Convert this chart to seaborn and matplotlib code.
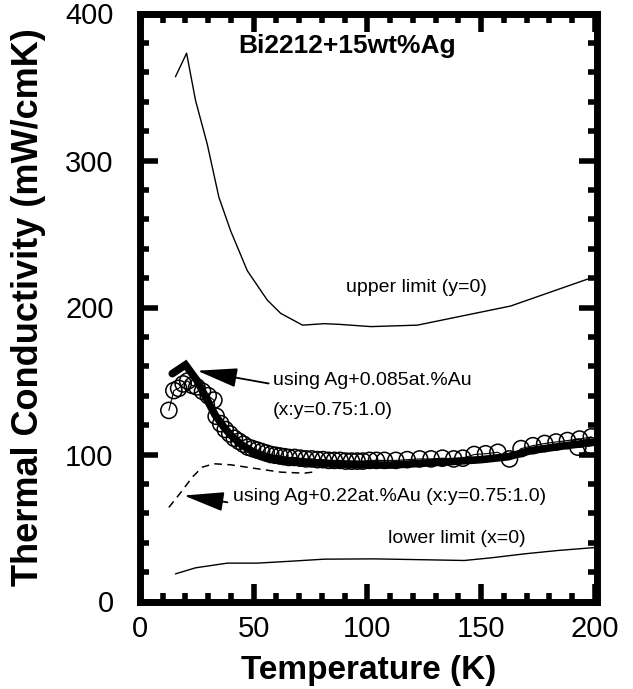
import matplotlib
matplotlib.use("Agg")
import matplotlib.pyplot as plt
import seaborn as sns
import numpy as np
from matplotlib.ticker import MultipleLocator

# ---------------- data ----------------
upper_T = [15.6, 20.5, 24.4, 29.6, 34.7, 39.9, 47.2, 56.0, 61.9, 71.5, 81.0, 88.0, 101.5, 122.0, 163.0, 200.0]
upper_K = [357, 373, 341, 311, 275, 252, 225, 205, 196, 188, 189, 188.5, 187, 188, 201, 221]

lower_T = [15.6, 24.4, 38.4, 51.6, 66.3, 81.0, 103.0, 125.0, 142.6, 154.4, 169.0, 183.8, 200.0]
lower_K = [18.8, 22.9, 26.1, 26.1, 27.4, 28.8, 29.0, 28.4, 27.9, 29.7, 32.4, 34.7, 36.7]

fit085_T = [14.2, 20.0, 25.2, 29.6, 33.0, 36.9, 40.0, 44.3, 50.0, 54.5, 60.0, 69.2, 84.0, 100.0, 110.0, 135.0, 150.0, 162.0, 172.0, 187.0, 200.0]
fit085_K = [155, 161, 150, 137, 127, 118.6, 113, 107, 101.5, 98.5, 96.5, 95, 93.7, 93, 92.8, 95, 96.5, 98.5, 102.7, 106, 108.4]

fit022_T = [12.7, 18.6, 23.0, 27.4, 32.5, 39.9, 51.6, 61.9, 72.2, 78.0]
fit022_K = [64, 75.5, 84.6, 91.4, 93.7, 93, 90.3, 88, 87.3, 88.4]

circ_T = [12.7, 14.9, 17.0, 19.0, 21.0, 23.0, 25.0, 27.5, 30.0, 32.5, 33.5, 35.5, 37.5, 39.5,
          41.5, 43.5, 45.5, 47.5, 49.5, 51.5, 53.5, 55.5, 57.5, 59.5, 61.5, 63.5, 65.5, 68.0,
          70.5, 73.0, 75.5, 78.0, 80.5, 83.0, 85.5, 88.0, 90.5, 93.0, 95.5, 98.0, 101.0, 104.0,
          107.5, 112.5, 117.5, 123.0, 128.0, 133.0, 138.0, 142.0, 147.0, 152.0, 157.4, 162.5,
          167.6, 172.8, 178.0, 183.0, 188.0, 193.3, 198.5, 192.6, 198.5]
circ_K = [130, 143.5, 145, 148, 150, 147, 146, 143, 140, 137, 126, 121, 117, 114,
          111, 109, 107, 105, 104, 103, 102, 101, 100, 99.5, 99, 98.5, 98, 98,
          97.5, 97, 97, 96.5, 96.5, 96, 96, 96, 95.5, 95.5, 95.5, 95.5, 96, 96,
          96, 96, 96.5, 97, 97, 97.5, 97, 97.5, 100, 100.5, 101.5, 97,
          104, 106, 107.5, 108.5, 109.5, 110.5, 112, 105, 106]

x_ticks = [0, 50, 100, 150, 200]
y_ticks = [0, 100, 200, 300, 400]

# ---------------- style ----------------
sns.set_theme(style="ticks")
plt.rcParams['font.family'] = ['Liberation Sans', 'DejaVu Sans']
plt.rcParams['text.color'] = 'black'
plt.rcParams['axes.labelcolor'] = 'black'
plt.rcParams['xtick.color'] = 'black'
plt.rcParams['ytick.color'] = 'black'

fig = plt.figure(figsize=(6.33, 6.89), dpi=100)
ax = fig.add_axes([140/633, 1-601.5/689, (597-140)/633, (601.5-13.5)/689])

sns.lineplot(x=upper_T, y=upper_K, ax=ax, color='black', lw=1.0, sort=False, estimator=None)
sns.lineplot(x=lower_T, y=lower_K, ax=ax, color='black', lw=1.0, sort=False, estimator=None)
sns.lineplot(x=fit022_T, y=fit022_K, ax=ax, color='black', lw=1.1, sort=False, estimator=None,
             linestyle=(0, (5, 3.5)))
sns.lineplot(x=circ_T, y=circ_K, ax=ax, color='black', lw=0.8, sort=False, estimator=None)
sns.scatterplot(x=circ_T, y=circ_K, ax=ax, marker='o', s=135, facecolor='none',
                edgecolor='black', linewidth=1.1, zorder=3)
sns.lineplot(x=fit085_T, y=fit085_K, ax=ax, color='black', lw=5.5, sort=False, estimator=None,
             zorder=4)
ax.lines[-1].set_solid_joinstyle('miter')

ax.set_xlim(0, 201)
ax.set_ylim(0, 400)
ax.set_xticks(x_ticks)
ax.set_yticks(y_ticks)
ax.xaxis.set_minor_locator(MultipleLocator(10))
ax.yaxis.set_minor_locator(MultipleLocator(20))

for s in ax.spines.values():
    s.set_linewidth(5)
    s.set_color('black')
ax.tick_params(which='both', direction='in', top=True, right=True, color='black')
ax.tick_params(which='major', length=13, width=4)
ax.tick_params(which='minor', length=6.5, width=4)
ax.tick_params(axis='x', which='major', labelsize=21, pad=10)
ax.tick_params(axis='y', which='major', labelsize=21, pad=19)

ax.set_xlabel('Temperature (K)', fontsize=24, fontweight='bold', labelpad=8)
ax.set_ylabel('Thermal Conductivity (mW/cmK)', fontsize=26, fontweight='bold', labelpad=14)

# annotations
ax.text(43.4, 378, 'Bi2212+15wt%Ag', fontsize=19, fontweight='bold', va='center', ha='left')
ax.text(90.5, 213.6, 'upper limit (y=0)', fontsize=14, va='center', ha='left')
ax.text(58.4, 150.3, 'using Ag+0.085at.%Au', fontsize=14, va='center', ha='left')
ax.text(58.4, 130.0, '(x:y=0.75:1.0)', fontsize=14, va='center', ha='left')
ax.text(41.1, 71.4, 'using Ag+0.22at.%Au (x:y=0.75:1.0)', fontsize=14, va='center', ha='left')
ax.text(109.0, 42.9, 'lower limit (x=0)', fontsize=14, va='center', ha='left')

ap = dict(arrowstyle='-|>,head_length=1.25,head_width=0.3', color='black', lw=1.3,
          shrinkA=0, shrinkB=0, mutation_scale=20)
ax.annotate('', xy=(25.2, 157), xytext=(56.6, 148.3), arrowprops=ap)
ax.annotate('', xy=(19.3, 72.1), xytext=(38.4, 67.5), arrowprops=ap)

fig.savefig('out.png', dpi=100)
